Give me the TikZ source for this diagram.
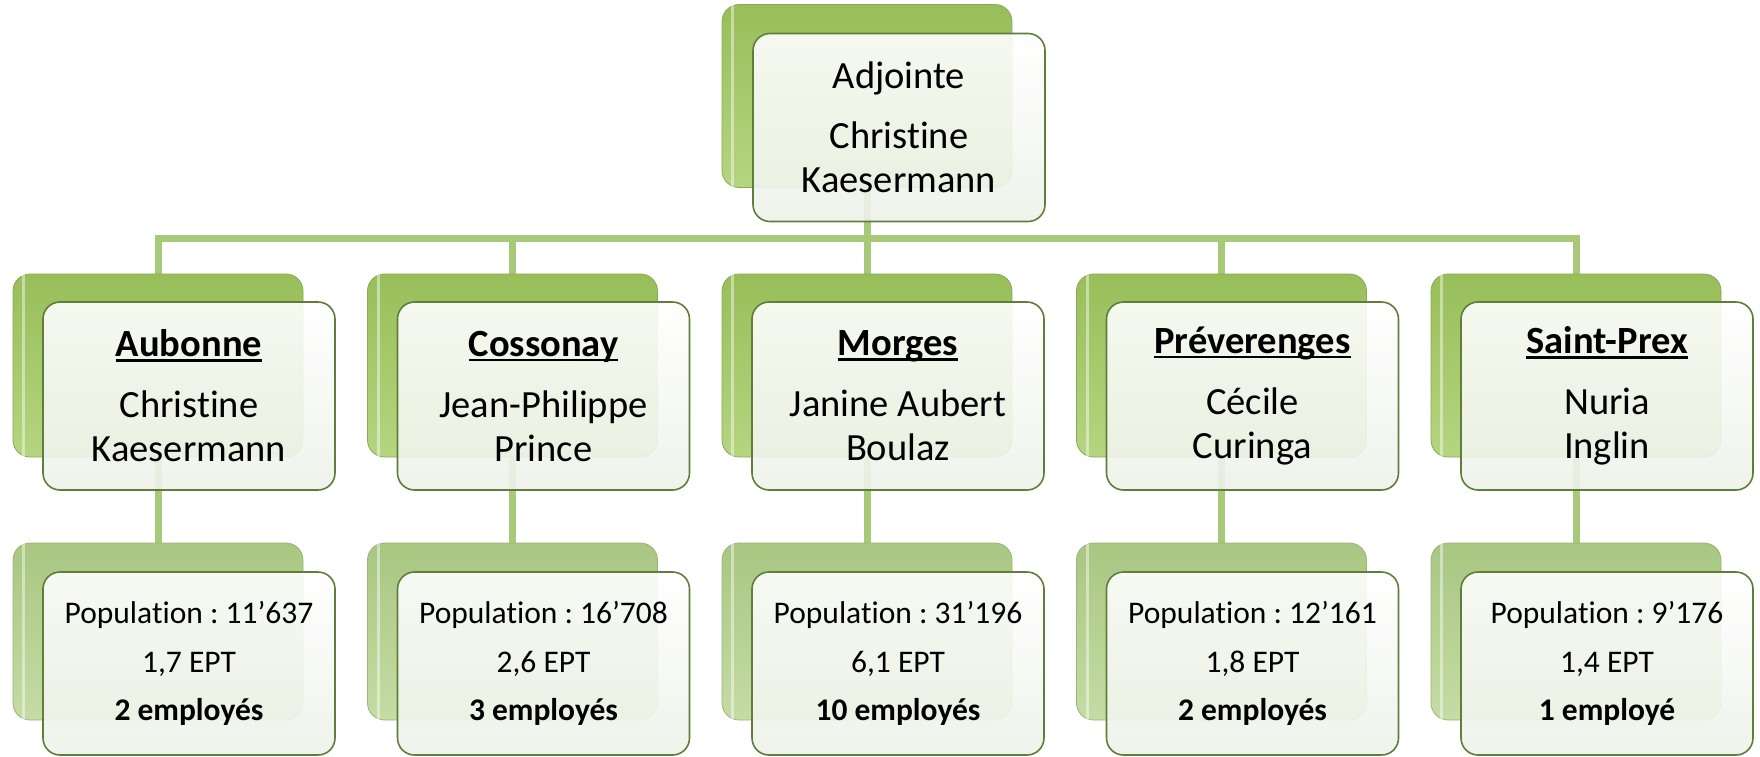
\documentclass[tikz,border=0pt]{standalone}
\usepackage{fontspec}
\setmainfont{Carlito}[Ligatures={NoCommon}]
\frenchspacing
\usetikzlibrary{calc}
\pgfdeclarelayer{bg}
\pgfsetlayers{bg,main}
\definecolor{conncol}{HTML}{A9C97A}
\definecolor{bktop}{HTML}{98BE5A}
\definecolor{bkbot}{HTML}{B5D580}
\definecolor{bkline}{HTML}{89A956}
\definecolor{pltop}{HTML}{A9C682}
\definecolor{plbot}{HTML}{C5DCA4}
\definecolor{plline}{HTML}{9AB579}
\definecolor{frbot}{HTML}{EEF2E9}
\definecolor{frline}{HTML}{5E7E3A}
\newcommand\ulin[1]{\setbox0\hbox{#1}\rlap{\rule[-5pt]{\wd0}{2.5pt}}\box0}
\newcommand\bigf{\fontsize{38.5}{44}\selectfont}
\newcommand\smallf{\fontsize{31.5}{48.5}\selectfont}
% #1 index, #2 x-offset, #3 title, #4 name line 1, #5 name line 2, #6 population line, #7 EPT line, #8 employees
\newcommand\orgcol[8]{%
  \node[backbox] (b#1) at (158+#2,365.5) {};
  \draw[shine] ($(b#1.north west)+(11,-28)$) -- ($(b#1.south west)+(11,28)$);
  \node[frontbox, font=\bigf] (f#1) at (189+#2,396) {\textbf{\ulin{#3}}\\[17pt]#4\\#5};
  \node[palebox] (c#1) at (158+#2,631.5) {};
  \draw[shine] ($(c#1.north west)+(11,-28)$) -- ($(c#1.south west)+(11,28)$);
  \node[lowfront] (g#1) at (189+#2,663.5) {#6\\#7\\\textbf{#8}};
}
\begin{document}
\begin{tikzpicture}[x=1pt,y=-1pt,
  backbox/.style={rectangle, rounded corners=17pt, minimum width=290pt, minimum height=183pt, inner sep=0pt,
     draw=bkline, line width=0.8pt, top color=bktop, bottom color=bkbot},
  palebox/.style={backbox, minimum height=177pt, draw=plline, top color=pltop, bottom color=plbot},
  frontbox/.style={rectangle, rounded corners=17pt, minimum width=292pt, minimum height=188pt, inner sep=0pt,
     draw=frline, line width=1.6pt, top color=white, bottom color=frbot, fill opacity=0.9, text opacity=1,
     align=center, text=black},
  lowfront/.style={frontbox, minimum height=183pt, font=\smallf},
  connector/.style={draw=conncol, line width=7pt},
  shine/.style={draw=white, line width=3pt, opacity=0.45, line cap=round}
]
\useasboundingbox (0,0) rectangle (1760,756);

% top
\node[backbox] (b0) at (867,96) {};
\draw[shine] ($(b0.north west)+(11,-28)$) -- ($(b0.south west)+(11,28)$);
\node[frontbox, font=\bigf] (f0) at (899,127.5) {Adjointe\\[16pt]Christine\\Kaesermann};

\orgcol{1}{0}{Aubonne}{Christine}{Kaesermann}{Population : 11’637}{1,7 EPT}{2 employés}
\orgcol{2}{354.5}{Cossonay}{Jean-Philippe}{Prince}{Population : 16’708}{2,6 EPT}{3 employés}
\orgcol{3}{709}{Morges}{Janine Aubert}{Boulaz}{Population : 31’196}{6,1 EPT}{10 employés}
\orgcol{4}{1063.5}{Préverenges}{Cécile}{Curinga}{Population : 12’161}{1,8 EPT}{2 employés}
\orgcol{5}{1418}{Saint-Prex}{Nuria}{Inglin}{Population : 9’176}{1,4 EPT}{1 employé}

\coordinate (bus) at (0,238);
\begin{pgfonlayer}{bg}
  \draw[connector] (b0.south) -- (b0.south |- bus);
  \draw[connector] (b1.north) -- (b1.north |- bus) -- (b5.north |- bus) -- (b5.north);
  \foreach \i in {2,3,4}{\draw[connector] (b\i.north |- bus) -- (b\i.north);}
  \foreach \i in {1,...,5}{\draw[connector] (b\i.south) -- (c\i.north);}
\end{pgfonlayer}
\end{tikzpicture}
\end{document}
